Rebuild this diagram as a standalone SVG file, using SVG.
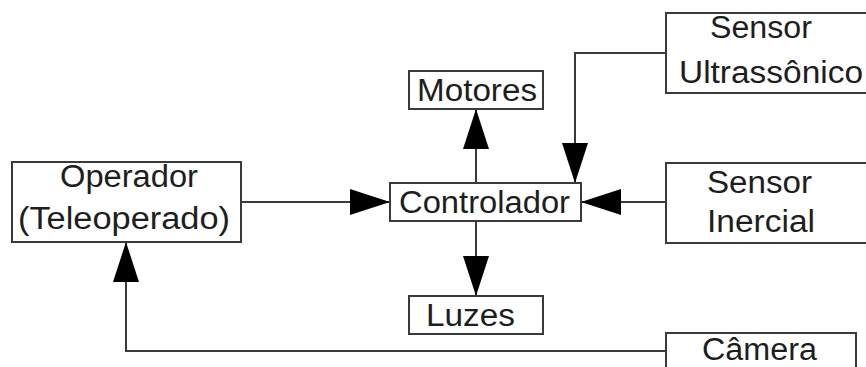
<svg xmlns="http://www.w3.org/2000/svg" width="866" height="367" viewBox="0 0 866 367">
  <style>
    .box { fill: #fff; stroke: #3a3a3a; stroke-width: 2; }
    .lbl { font-family: "Liberation Sans", Arial, sans-serif; font-size: 31px; fill: #1e1e1e; }
    .wire { fill: none; stroke: #3a3a3a; stroke-width: 2; }
  </style>
  <defs>
    <marker id="arrow" viewBox="0 0 40 26" refX="40" refY="13" markerWidth="40" markerHeight="26" markerUnits="userSpaceOnUse" orient="auto">
      <path d="M0,0 L40,13 L0,26 Z" fill="#000"/>
    </marker>
  </defs>

  <rect width="866" height="367" fill="#fff"/>

  <g id="connectors">
    <!-- Operador -> Controlador -->
    <path class="wire" d="M241,202 H390" marker-end="url(#arrow)"/>
    <!-- Controlador -> Motores -->
    <path class="wire" d="M476,183 V109" marker-end="url(#arrow)"/>
    <!-- Controlador -> Luzes -->
    <path class="wire" d="M476,221 V296" marker-end="url(#arrow)"/>
    <!-- Sensor Ultrassonico -> Controlador -->
    <path class="wire" d="M666,53 H575 V183" marker-end="url(#arrow)"/>
    <!-- Sensor Inercial -> Controlador -->
    <path class="wire" d="M666,202 H581" marker-end="url(#arrow)"/>
    <!-- Camera -> Operador -->
    <path class="wire" d="M666,351 H126 V242" marker-end="url(#arrow)"/>
  </g>

  <g id="operador">
    <rect class="box" x="12" y="162" width="229" height="80"/>
    <text class="lbl" x="60" y="187" textLength="138" lengthAdjust="spacingAndGlyphs">Operador</text>
    <text class="lbl" x="18" y="229" textLength="212" lengthAdjust="spacingAndGlyphs">(Teleoperado)</text>
  </g>

  <g id="controlador">
    <rect class="box" x="390" y="183" width="191" height="38"/>
    <text class="lbl" x="399" y="213" textLength="171" lengthAdjust="spacingAndGlyphs">Controlador</text>
  </g>

  <g id="motores">
    <rect class="box" x="409" y="71" width="134" height="38"/>
    <text class="lbl" x="417" y="101" textLength="120" lengthAdjust="spacingAndGlyphs">Motores</text>
  </g>

  <g id="luzes">
    <rect class="box" x="409" y="296" width="134" height="38"/>
    <text class="lbl" x="426" y="326" textLength="89" lengthAdjust="spacingAndGlyphs">Luzes</text>
  </g>

  <g id="sensor-ultrassonico">
    <rect class="box" x="666" y="13" width="210" height="80"/>
    <text class="lbl" x="710" y="38" textLength="102" lengthAdjust="spacingAndGlyphs">Sensor</text>
    <text class="lbl" x="679" y="83" textLength="184" lengthAdjust="spacingAndGlyphs">Ultrassônico</text>
  </g>

  <g id="sensor-inercial">
    <rect class="box" x="666" y="163" width="210" height="80"/>
    <text class="lbl" x="707" y="193" textLength="105" lengthAdjust="spacingAndGlyphs">Sensor</text>
    <text class="lbl" x="707" y="232" textLength="108" lengthAdjust="spacingAndGlyphs">Inercial</text>
  </g>

  <g id="camera">
    <rect class="box" x="666" y="333" width="190" height="50"/>
    <text class="lbl" x="702" y="360" textLength="115" lengthAdjust="spacingAndGlyphs">Câmera</text>
  </g>
</svg>
